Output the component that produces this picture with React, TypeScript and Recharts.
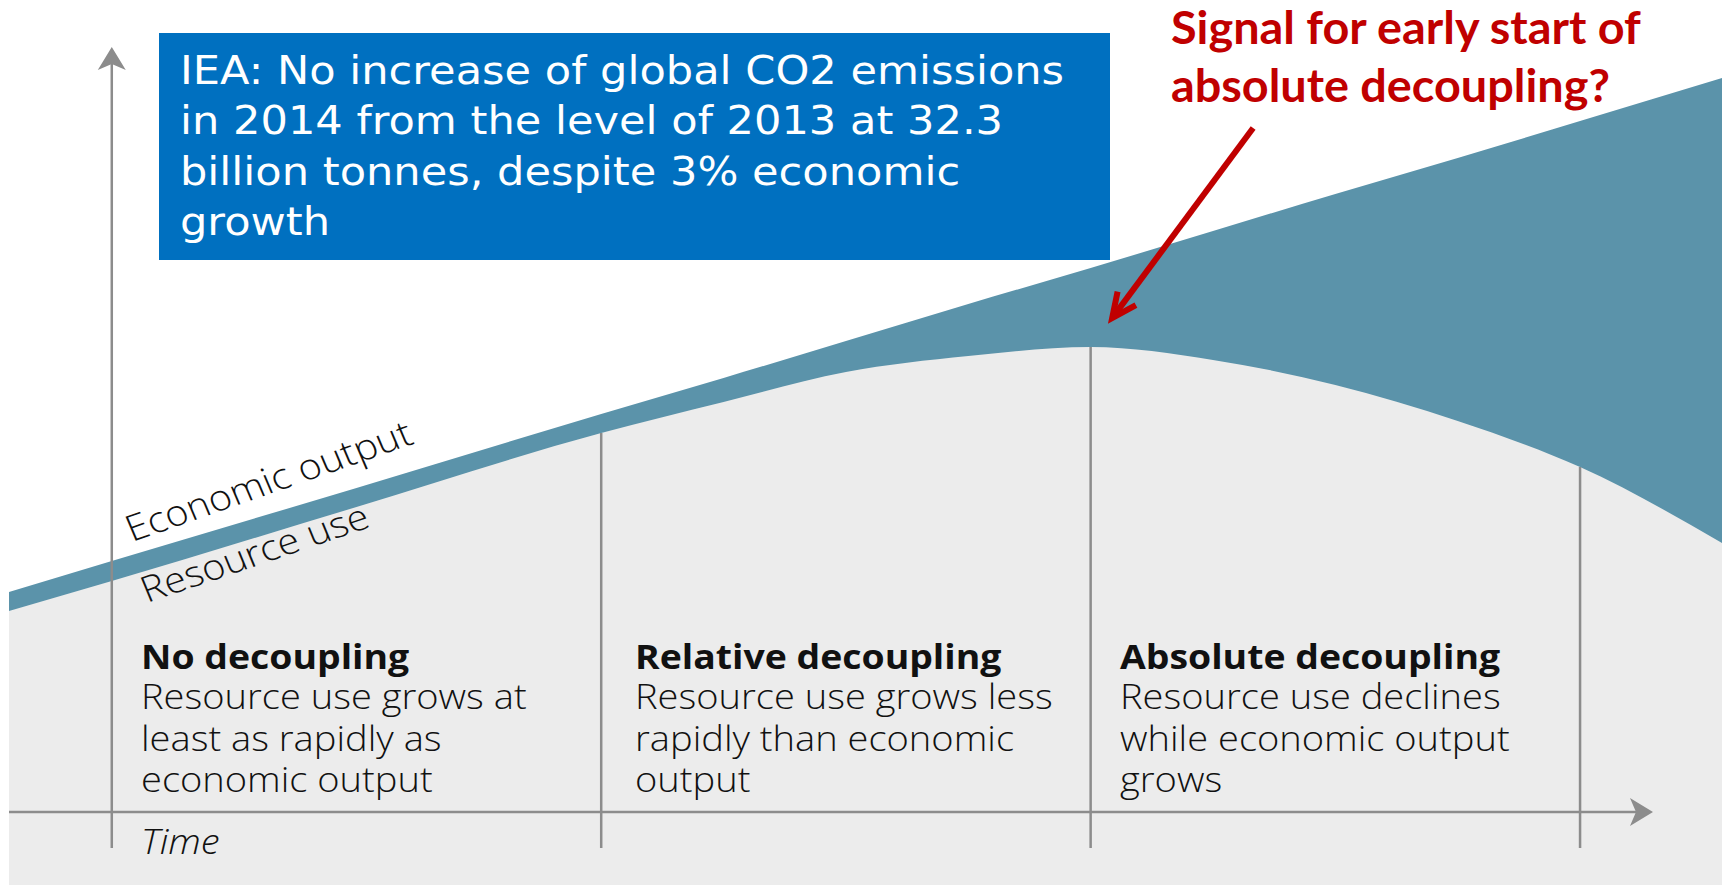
import { ComposedChart, Area, XAxis, YAxis, ReferenceLine } from 'recharts';

// time in phase widths (0 = origin, 1..3 = phase boundaries)
const times = [-0.21, 0, 0.5, 1, 1.25, 1.5, 1.75, 2, 2.25, 2.5, 2.75, 3, 3.29];
const economicOutput = [2.2, 2.51, 3.24, 3.98, 4.34, 4.71, 5.08, 5.44, 5.81, 6.18, 6.54, 6.91, 7.34];
const resourceUse = [2.01, 2.31, 3.05, 3.79, 4.1, 4.4, 4.56, 4.65, 4.52, 4.27, 3.91, 3.45, 2.69];

const phaseBounds = [1, 2, 3];
const phaseTitles = ['No decoupling', 'Relative decoupling', 'Absolute decoupling'];
const phaseLines = [
  ['Resource use grows at', 'least as rapidly as', 'economic output'],
  ['Resource use grows less', 'rapidly than economic', 'output'],
  ['Resource use declines', 'while economic output', 'grows'],
];

const noteLines = [
  'IEA: No increase of global CO2 emissions',
  'in 2014 from the level of 2013 at 32.3',
  'billion tonnes, despite 3% economic',
  'growth',
];
const signalLines = ['Signal for early start of', 'absolute decoupling?'];

// pointer from the question down to the turning point
const pointerFrom = { x: 2.332, y: 6.84 };
const pointerTo = { x: 2.044, y: 4.94 };

const W = 1722;
const H = 885;
const X_DOMAIN: [number, number] = [-0.21, 3.29];
const Y_DOMAIN: [number, number] = [-0.73, 8.12];
const AXIS_FLOOR = -0.36;
const Y_AXIS_TOP = 7.65;
const X_AXIS_END = 3.149;

const TEAL = '#5b93aa';
const GREY_BG = '#ececec';
const AXIS = '#8c8c8c';
const RED = '#c00000';
const BLUE = '#0070c0';

const data = times.map((t, i) => ({ t, econ: economicOutput[i], resource: resourceUse[i] }));

function ArrowLine(props: any) {
  const { x1, y1, x2, y2 } = props;
  const len = Math.hypot(x2 - x1, y2 - y1);
  const ux = (x2 - x1) / len;
  const uy = (y2 - y1) / len;
  const nx = -uy;
  const ny = ux;
  const head = 23;
  const half = 14;
  const notch = 17;
  const pts = [
    [x2, y2],
    [x2 - ux * head + nx * half, y2 - uy * head + ny * half],
    [x2 - ux * notch, y2 - uy * notch],
    [x2 - ux * head - nx * half, y2 - uy * head - ny * half],
  ]
    .map((p) => p.join(','))
    .join(' ');
  return (
    <g>
      <line x1={x1} y1={y1} x2={x2 - ux * notch} y2={y2 - uy * notch} stroke={AXIS} strokeWidth={2.5} />
      <polygon points={pts} fill={AXIS} />
    </g>
  );
}

function PointerArrow(props: any) {
  const { x1, y1, x2, y2 } = props;
  const len = Math.hypot(x1 - x2, y1 - y2);
  const bx = (x1 - x2) / len;
  const by = (y1 - y2) / len;
  const arm = 27;
  const rot = (a: number) => {
    const c = Math.cos(a);
    const s = Math.sin(a);
    return [x2 + (bx * c - by * s) * arm, y2 + (bx * s + by * c) * arm];
  };
  const a1 = rot((25 * Math.PI) / 180);
  const a2 = rot((-25 * Math.PI) / 180);
  return (
    <g stroke={RED} strokeWidth={6} fill="none">
      <line x1={x1} y1={y1} x2={x2 + bx * 3} y2={y2 + by * 3} />
      <polyline points={`${a1.join(',')} ${x2},${y2} ${a2.join(',')}`} strokeLinejoin="miter" />
    </g>
  );
}

const bodyFont = '"Open Sans", sans-serif';
const SX = 1.12;

export default function App() {
  const phaseX = [141, 635, 1120];
  return (
    <div style={{ position: 'absolute', left: 0, top: 0, width: W, height: H, background: '#fff', overflow: 'hidden' }}>
      <ComposedChart width={W} height={H} data={data} margin={{ top: 0, right: 0, bottom: 0, left: 9 }}>
        <XAxis dataKey="t" type="number" domain={X_DOMAIN} allowDataOverflow hide />
        <YAxis type="number" domain={Y_DOMAIN} allowDataOverflow hide />
        <Area
          dataKey="econ"
          type="monotone"
          baseValue={Y_DOMAIN[0]}
          fill={TEAL}
          fillOpacity={1}
          stroke="none"
          isAnimationActive={false}
        />
        <Area
          dataKey="resource"
          type="monotone"
          baseValue={Y_DOMAIN[0]}
          fill={GREY_BG}
          fillOpacity={1}
          stroke="none"
          isAnimationActive={false}
        />
        {phaseBounds.map((b) => (
          <ReferenceLine
            key={b}
            segment={[
              { x: b, y: resourceUse[times.indexOf(b)] },
              { x: b, y: AXIS_FLOOR },
            ]}
            stroke={AXIS}
            strokeWidth={2.5}
            ifOverflow="visible"
          />
        ))}
        <ReferenceLine
          segment={[
            { x: 0, y: AXIS_FLOOR },
            { x: 0, y: Y_AXIS_TOP },
          ]}
          shape={ArrowLine}
          ifOverflow="visible"
        />
        <ReferenceLine
          segment={[
            { x: X_DOMAIN[0], y: 0 },
            { x: X_AXIS_END, y: 0 },
          ]}
          shape={ArrowLine}
          ifOverflow="visible"
        />
        <ReferenceLine segment={[pointerFrom, pointerTo]} shape={PointerArrow} ifOverflow="visible" />
      </ComposedChart>

      {/* annotations */}
      <svg width={W} height={H} style={{ position: 'absolute', left: 0, top: 0, pointerEvents: 'none' }}>
        <rect x={159} y={33} width={951} height={227} fill={BLUE} />
        {noteLines.map((l, i) => (
          <text
            key={l}
            transform={`translate(180, ${83.5 + i * 50.6}) scale(1.106, 1)`}
            fontFamily='"DejaVu Sans", sans-serif'
            fontSize={39}
            fill="#fff"
          >
            {l}
          </text>
        ))}
        {signalLines.map((l, i) => (
          <text
            key={l}
            transform={`translate(1171, ${44 + i * 58}) scale(1.04, 1)`}
            fontFamily="Lato, sans-serif"
            fontWeight={700}
            fontSize={45}
            fill={RED}
          >
            {l}
          </text>
        ))}
        <text
          transform="translate(132, 542) scale(1.1, 1) rotate(-21)"
          fontFamily={bodyFont}
          fontWeight={300}
          fontSize={36}
          fill="#111"
        >
          Economic output
        </text>
        <text
          transform="translate(147, 603) scale(1.1, 1) rotate(-20.5)"
          fontFamily={bodyFont}
          fontWeight={300}
          fontSize={36}
          fill="#111"
        >
          Resource use
        </text>
        {phaseTitles.map((title, p) => (
          <g key={title}>
            <text
              transform={`translate(${phaseX[p]}, 669) scale(1.1, 1)`}
              fontFamily={bodyFont}
              fontWeight={700}
              fontSize={34}
              fill="#111"
            >
              {title}
            </text>
            {phaseLines[p].map((l, i) => (
              <text
                key={l}
                transform={`translate(${phaseX[p]}, ${709 + i * 41.7}) scale(${SX}, 1)`}
                fontFamily={bodyFont}
                fontWeight={300}
                fontSize={34}
                fill="#111"
              >
                {l}
              </text>
            ))}
          </g>
        ))}
        <text
          transform={`translate(141, 854) scale(${SX}, 1)`}
          fontFamily={bodyFont}
          fontWeight={300}
          fontStyle="italic"
          fontSize={34}
          fill="#111"
        >
          Time
        </text>
      </svg>
    </div>
  );
}
